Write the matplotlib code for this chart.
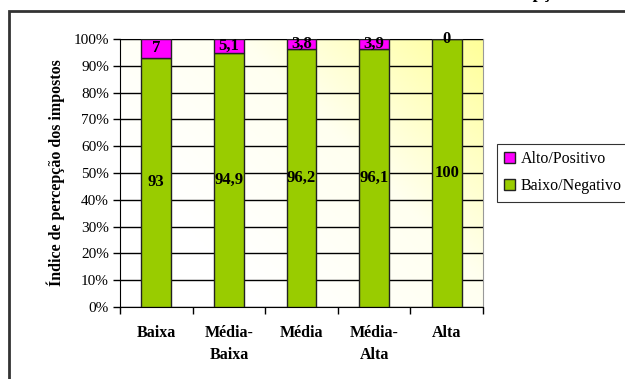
import matplotlib
matplotlib.use("Agg")
import matplotlib.pyplot as plt
import numpy as np
from matplotlib.patches import Rectangle
from matplotlib.colors import LinearSegmentedColormap

categories = ["Baixa", "Média-\nBaixa", "Média", "Média-\nAlta", "Alta"]
baixo_negativo = [93, 94.9, 96.2, 96.1, 100]
alto_positivo = [7, 5.1, 3.8, 3.9, 0]
baixo_labels = ["93", "94,9", "96,2", "96,1", "100"]
alto_labels = ["7", "5,1", "3,8", "3,9", "0"]
series_names = ["Alto/Positivo", "Baixo/Negativo"]
ytick_labels = [f"{v}%" for v in range(0, 101, 10)]

serif = ["Liberation Serif", "DejaVu Serif"]
plt.rcParams['font.family'] = serif

W, H = 625, 379
fig = plt.figure(figsize=(W / 100, H / 100), dpi=100)
ax = fig.add_axes([120 / W, 1 - 307 / H, 363 / W, 268 / H])

# gradient background
n = 200
gx, gy = np.meshgrid(np.linspace(0, 1, n), np.linspace(0, 1, n))
t = np.clip(0.75 * gx + 0.55 * gy - 0.3, 0, 1)
cmap = LinearSegmentedColormap.from_list("bg", ["#ffffff", "#fffff0", "#ffff99"])
ax.imshow(t, cmap=cmap, origin="lower", extent=[-0.5, 4.5, 0, 100],
          aspect="auto", zorder=0, vmin=0, vmax=1)

x = np.arange(len(categories))
green = "#99cc00"
magenta = "#ff00ff"
bw = 0.41
ax.bar(x, baixo_negativo, width=bw, color=green, edgecolor="#222222",
       linewidth=1, zorder=3, label=series_names[1])
ax.bar(x, alto_positivo, width=bw, bottom=baixo_negativo, color=magenta,
       edgecolor="#222222", linewidth=1, zorder=3, label=series_names[0])

for i in range(len(categories)):
    ax.text(x[i], baixo_negativo[i] / 2, baixo_labels[i], ha="center", va="center",
            fontsize=12, fontweight="bold", zorder=5)
    ax.text(x[i], baixo_negativo[i] + alto_positivo[i] / 2, alto_labels[i],
            ha="center", va="center", fontsize=12, fontweight="bold", zorder=5)

ax.set_xlim(-0.5, 4.5)
ax.set_ylim(0, 100)
ax.set_yticks(range(0, 101, 10))
ax.set_yticklabels(ytick_labels, fontsize=11)
ax.yaxis.grid(True, color="black", linewidth=1)
ax.set_axisbelow(False)
for line in ax.get_ygridlines():
    line.set_zorder(1)

ax.set_xticks(x)
ax.set_xticklabels(categories, fontsize=11.5, fontweight="bold", linespacing=1.5)
ax.tick_params(axis="x", which="major", length=0, pad=13)
ax.set_xticks(np.arange(-0.5, 5, 1), minor=True)
ax.tick_params(axis="x", which="minor", length=5, width=1, direction="out")
ax.tick_params(axis="y", length=5, width=1, direction="out", pad=3)

ax.spines["top"].set_color("#999999")
ax.spines["right"].set_color("#999999")
ax.spines["left"].set_color("black")
ax.spines["bottom"].set_color("black")

ax.set_ylabel("Índice de percepção dos impostos", fontsize=11.5, fontweight="bold", labelpad=6)

h, l = ax.get_legend_handles_labels()
leg = fig.legend([h[1], h[0]], [l[1], l[0]], loc="upper left",
                 bbox_to_anchor=(497 / W, 1 - 144 / H), fontsize=11.5,
                 frameon=True, fancybox=False, edgecolor="black",
                 handlelength=0.7, handleheight=0.7, handletextpad=0.35,
                 borderpad=0.45, labelspacing=0.7, borderaxespad=0)
leg.get_frame().set_linewidth(0.8)

# outer frame
fig.patches.append(Rectangle((9 / W, -0.05), 1.2, 1 - 11 / H + 0.05,
                             transform=fig.transFigure, fill=False,
                             edgecolor="#333333", linewidth=2))

# clipped title remnant
fig.text(530 / W, 1 + 1.5 / H, "Percepção", ha="center", va="baseline",
         fontsize=13, fontweight="bold")

fig.savefig("out.png", dpi=100)
